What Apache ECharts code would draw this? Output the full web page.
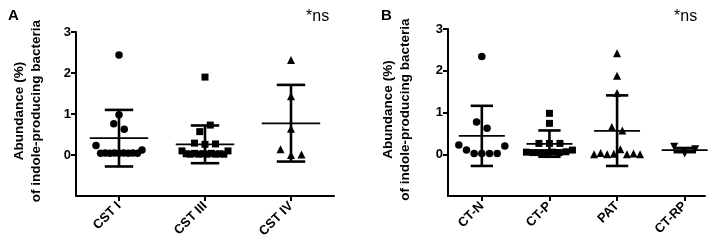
<!DOCTYPE html>
<html>
<head>
<meta charset="utf-8">
<script src="https://cdn.jsdelivr.net/npm/echarts@6/dist/echarts.min.js"></script>
<style>
  html, body { margin: 0; padding: 0; background: #fff; }
  #main { width: 725px; height: 241px; }
</style>
</head>
<body>
<div id="main"></div>
<script>
// panel A - community state types
var catsA = ['CST I', 'CST III', 'CST IV'];
var cstI = [2.44, 0.98, 0.76, 0.63, 0.23, 0.04, 0.05, 0.04, 0.05, 0.04, 0.05, 0.04, 0.05, 0.04, 0.12];
var cstIII = [1.9, 0.57, 0.73, 0.29, 0.26, 0.27, 0.1, 0.03, 0.02, 0.04, 0.02, 0.03, 0.02, 0.04, 0.02, 0.03, 0.02, 0.1];
var cstIV = [2.32, 1.43, 0.64, 0.14, 0.0, 0.01];
var meanA = [0.41, 0.26, 0.77];
var lowA = [-0.28, -0.2, -0.16];
var highA = [1.10, 0.72, 1.71];

// panel B - groups
var catsB = ['CT-N', 'CT-P', 'PAT', 'CT-RP'];
var ctN = [2.34, 0.77, 0.62, 0.22, 0.1, 0.02, 0.02, 0.02, 0.02, 0.2];
var ctP = [0.98, 0.74, 0.26, 0.26, 0.26, 0.05, 0.04, 0.04, 0.04, 0.05, 0.04, 0.06, 0.1];
var pat = [2.42, 1.88, 1.47, 0.65, 0.57, 0, 0.03, 0, 0.01, 0.12, 0, 0.02, 0];
var ctRP = [0.18, 0.02, 0.12];
var meanB = [0.44, 0.25, 0.56, 0.10];
var lowB = [-0.28, -0.06, -0.28, 0.05];
var highB = [1.16, 0.57, 1.41, 0.15];

var yTicks = [0, 1, 2, 3];
var font = 'Arial, "Liberation Sans", sans-serif';
var ink = '#000';

var myChart = echarts.init(document.getElementById('main'));

// simple row based swarm, like prism does it
function swarm(vals, idx, pxPerCat) {
    var order = vals.map(function (v, i) { return i; });
    order.sort(function (a, b) { return (vals[a] - vals[b]) || (a - b); });
    var rows = [];
    var cur = null;
    order.forEach(function (i) {
        if (!cur || vals[i] - cur.start > 0.2 + 1e-6) {
            cur = { start: vals[i], items: [] };
            rows.push(cur);
        }
        cur.items.push(i);
    });
    var out = [];
    rows.forEach(function (r) {
        r.items.sort(function (a, b) { return a - b; });
        var n = r.items.length;
        var step = n > 1 ? Math.min(10.5, 46 / (n - 1)) : 0;
        r.items.forEach(function (i, k) {
            out.push([idx + (k - (n - 1) / 2) * step / pxPerCat, vals[i]]);
        });
    });
    return out;
}

function renderBar(params, api) {
    var x = api.value(0);
    var pM = api.coord([x, api.value(1)]);
    var pL = api.coord([x, api.value(2)]);
    var pH = api.coord([x, api.value(3)]);
    var w = api.size([1, 0])[0];
    var half = w * 0.34, cap = w * 0.165;
    var st = { stroke: ink, lineWidth: 2.6 };
    return {
        type: 'group',
        children: [
            { type: 'line', shape: { x1: pM[0] - half, y1: pM[1], x2: pM[0] + half, y2: pM[1] }, style: { stroke: ink, lineWidth: 1.7 } },
            { type: 'line', shape: { x1: pL[0], y1: pL[1], x2: pH[0], y2: pH[1] }, style: st },
            { type: 'line', shape: { x1: pL[0] - cap, y1: pL[1], x2: pL[0] + cap, y2: pL[1] }, style: st },
            { type: 'line', shape: { x1: pH[0] - cap, y1: pH[1], x2: pH[0] + cap, y2: pH[1] }, style: st }
        ]
    };
}

function barData(mean, low, high) {
    return mean.map(function (m, i) { return [i, m, low[i], high[i]]; });
}

function xAxisFor(gi, cats, max) {
    var vals = cats.map(function (c, i) { return i; });
    return {
        gridIndex: gi,
        type: 'value',
        min: -0.5,
        max: max,
        splitLine: { show: false },
        axisLine: { show: true, onZero: false, lineStyle: { color: ink, width: 2 } },
        axisTick: { show: true, customValues: vals, length: 5, lineStyle: { color: ink, width: 2 } },
        axisLabel: {
            customValues: vals,
            rotate: 45,
            margin: 8,
            fontSize: 13,
            fontWeight: 'bold',
            fontFamily: font,
            color: ink,
            formatter: function (v) { return cats[Math.round(v)]; }
        }
    };
}

function yAxisFor(gi, gap) {
    return {
        gridIndex: gi,
        type: 'value',
        min: -1,
        max: 3,
        splitLine: { show: false },
        axisLine: { show: true, onZero: false, lineStyle: { color: ink, width: 2 } },
        axisTick: { show: true, customValues: yTicks, length: 5, lineStyle: { color: ink, width: 2 } },
        axisLabel: { customValues: yTicks, margin: 5, fontSize: 13, fontWeight: 'bold', fontFamily: font, color: ink },
        name: 'Abundance (%)\nof indole-producing bacteria',
        nameLocation: 'middle',
        nameGap: gap,
        nameRotate: 90,
        nameTextStyle: { fontSize: 13.5, fontWeight: 'bold', fontFamily: font, color: ink, lineHeight: 17, padding: [0, 0, 0, 6] }
    };
}

function dots(name, vals, idx, gi, pxPerCat, symbol, size, rot) {
    return {
        name: name,
        type: 'scatter',
        xAxisIndex: gi,
        yAxisIndex: gi,
        symbol: symbol,
        symbolSize: size,
        symbolRotate: rot || 0,
        itemStyle: { color: ink, opacity: 1 },
        z: 2,
        silent: true,
        data: swarm(vals, idx, pxPerCat)
    };
}

var option = {
    animation: false,
    title: [
        { text: 'A', left: 3, top: 3, textStyle: { fontSize: 15, fontWeight: 'bold', fontFamily: font, color: ink } },
        { text: '*ns', left: 301, top: 4, textStyle: { fontSize: 16, fontWeight: 'normal', fontFamily: font, color: ink } },
        { text: 'B', left: 376, top: 3, textStyle: { fontSize: 15, fontWeight: 'bold', fontFamily: font, color: ink } },
        { text: '*ns', left: 669, top: 4, textStyle: { fontSize: 16, fontWeight: 'normal', fontFamily: font, color: ink } }
    ],
    grid: [
        { left: 76, top: 32, width: 258, height: 164 },
        { left: 448, top: 29, width: 257, height: 167 }
    ],
    xAxis: [xAxisFor(0, catsA, 2.5), xAxisFor(1, catsB, 3.3)],
    yAxis: [yAxisFor(0, 31), yAxisFor(1, 34)],
    series: [
        dots('CST I', cstI, 0, 0, 86, 'circle', 7.5),
        dots('CST III', cstIII, 1, 0, 86, 'rect', 7),
        dots('CST IV', cstIV, 2, 0, 86, 'triangle', 8),
        {
            type: 'custom', xAxisIndex: 0, yAxisIndex: 0, z: 5, silent: true,
            renderItem: renderBar, data: barData(meanA, lowA, highA)
        },
        dots('CT-N', ctN, 0, 1, 67.6, 'circle', 7.5),
        dots('CT-P', ctP, 1, 1, 67.6, 'rect', 7),
        dots('PAT', pat, 2, 1, 67.6, 'triangle', 8),
        dots('CT-RP', ctRP, 3, 1, 67.6, 'triangle', 8, 180),
        {
            type: 'custom', xAxisIndex: 1, yAxisIndex: 1, z: 5, silent: true,
            renderItem: renderBar, data: barData(meanB, lowB, highB)
        }
    ]
};
myChart.setOption(option);
</script>
</body>
</html>
